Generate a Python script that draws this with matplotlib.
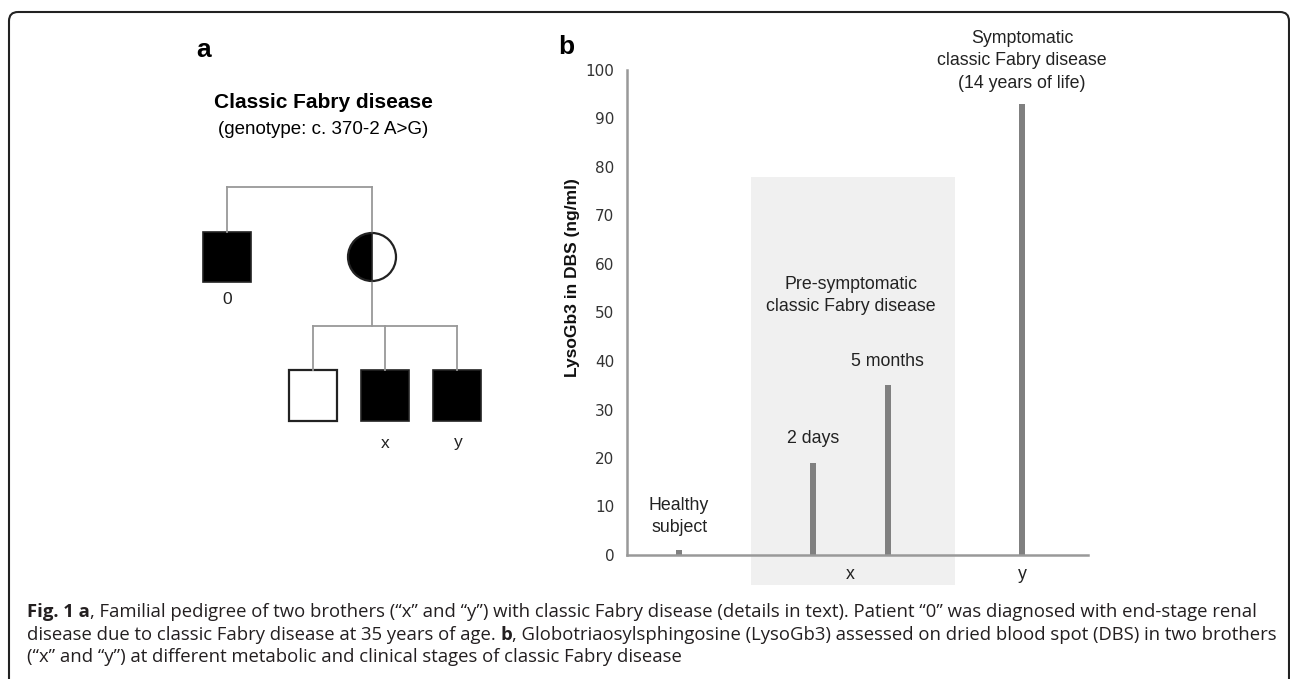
import numpy as np
import matplotlib
matplotlib.use("Agg")
import matplotlib.pyplot as plt
from matplotlib.patches import Rectangle, Wedge, Circle, FancyBboxPatch

# panel b data (LysoGb3 in DBS, ng/ml)
bar_labels = ["Healthy\nsubject", "2 days", "5 months",
              "Symptomatic\nclassic Fabry disease\n(14 years of life)"]
bar_values = [1.0, 19.0, 35.0, 93.0]
bar_pos = [1.13, 4.03, 5.66, 8.57]
label_y = [7.9, 24.1, 39.8, 101.9]
group_labels = ["x", "y"]
group_pos = [4.85, 8.57]
yticks = list(range(0, 101, 10))

fig = plt.figure(figsize=(12.9, 6.79), dpi=100)

# full-figure overlay in pixel coordinates
ax0 = fig.add_axes([0, 0, 1, 1])
ax0.set_xlim(0, 1290)
ax0.set_ylim(679, 0)
ax0.axis("off")

# rounded frame
ax0.add_patch(FancyBboxPatch((9, 12), 1280, 700, boxstyle="round,pad=0,rounding_size=9",
                             fill=False, ec="#222222", lw=1.5))

sans = "Liberation Sans"
cap_font = "Open Sans"

# ---- panel a : pedigree ----
ax0.text(196, 50, "a", fontsize=19, fontweight="bold", family=sans, va="center")
ax0.text(323, 103, "Classic Fabry disease", fontsize=15, fontweight="bold", family=sans,
         ha="center", va="center")
ax0.text(323, 130, "(genotype: c. 370-2 A>G)", fontsize=13.5, family=sans,
         ha="center", va="center")

lc = "#999999"
ax0.plot([227, 372], [187, 187], color=lc, lw=1.3)
ax0.plot([227, 227], [187, 232], color=lc, lw=1.3)
ax0.plot([372, 372], [187, 233], color=lc, lw=1.3)
ax0.plot([372, 372], [281, 326], color=lc, lw=1.3)
ax0.plot([313, 457], [326, 326], color=lc, lw=1.3)
for xx in [313, 385, 457]:
    ax0.plot([xx, xx], [326, 370], color=lc, lw=1.3)

sq = 48
ax0.add_patch(Rectangle((227 - sq / 2, 232), sq, 50, fc="black", ec="#222222", lw=1.2))
ax0.add_patch(Rectangle((313 - sq / 2, 370), sq, 51, fc="white", ec="#222222", lw=1.6))
ax0.add_patch(Rectangle((385 - sq / 2, 370), sq, 51, fc="black", ec="#222222", lw=1.2))
ax0.add_patch(Rectangle((457 - sq / 2, 370), sq, 51, fc="black", ec="#222222", lw=1.2))
ax0.add_patch(Wedge((372, 257), 24, 90, 270, fc="black", ec="none"))
ax0.add_patch(Circle((372, 257), 24, fc="none", ec="#222222", lw=1.6))
ax0.plot([372, 372], [233, 281], color="#222222", lw=1.2)

ax0.text(227, 300, "0", fontsize=12.5, family=sans, ha="center", va="center", color="#222222")
ax0.text(385, 443, "x", fontsize=12.5, family=sans, ha="center", va="center", color="#222222")
ax0.text(458, 443, "y", fontsize=12.5, family=sans, ha="center", va="center", color="#222222")

# ---- panel b : bar chart ----
ax0.text(558, 47, "b", fontsize=19, fontweight="bold", family=sans, va="center")
ax0.text(572, 278, "LysoGb3 in DBS (ng/ml)", fontsize=12.5, fontweight="bold", family=sans,
         rotation=90, ha="center", va="center", color="#111111")

ax = fig.add_axes([627 / 1290, (679 - 555) / 679, (1088 - 627) / 1290, (555 - 70) / 679])
ax.set_xlim(0, 10)
ax.set_ylim(0, 100)
ax.patch.set_alpha(0)
for s in ["top", "right"]:
    ax.spines[s].set_visible(False)
for s in ["left", "bottom"]:
    ax.spines[s].set_color("#999999")
    ax.spines[s].set_linewidth(1.8)
ax.set_xticks([])
ax.set_yticks(yticks)
ax.tick_params(axis="y", length=0, pad=9, labelsize=11, labelcolor="#333333")

# pre-symptomatic shaded region
ax.add_patch(Rectangle((2.69, -6.2), 7.11 - 2.69, 78 + 6.2, fc="#f0f0f0", ec="none",
                       clip_on=False, zorder=0))
ax.text(4.85, 53.5, "Pre-symptomatic\nclassic Fabry disease", fontsize=12.8, family=sans,
        ha="center", va="center", color="#222222", linespacing=1.42)

ax.bar(bar_pos, bar_values, width=0.14, color="#808080", zorder=2)
for xp, ly, lab in zip(bar_pos, label_y, bar_labels):
    ax.text(xp, ly, lab, fontsize=12.8, family=sans, ha="center", va="center",
            color="#222222", linespacing=1.42, clip_on=False)

for xp, lab in zip(group_pos, group_labels):
    ax.text(xp, -4.1, lab, fontsize=12.8, family=sans, ha="center", va="center", color="#222222")

# ---- caption ----
cap_lines = [
    [("Fig. 1 a", "bold"), (", Familial pedigree of two brothers (\u201cx\u201d and \u201cy\u201d) with classic Fabry disease "
                           "(details in text). Patient \u201c0\u201d was diagnosed with end-stage renal", "normal")],
    [("disease due to classic Fabry disease at 35 years of age. ", "normal"), ("b", "bold"),
     (", Globotriaosylsphingosine (LysoGb3) assessed on dried blood spot (DBS) in two brothers", "normal")],
    [("(\u201cx\u201d and \u201cy\u201d) at different metabolic and clinical stages of classic Fabry disease", "normal")],
]
fig.canvas.draw()
renderer = fig.canvas.get_renderer()
for i, parts in enumerate(cap_lines):
    x = 27
    y = 612 + 22.5 * i
    for txt, wt in parts:
        t = ax0.text(x, y, txt, fontsize=13.3, fontweight=wt, family=cap_font,
                     ha="left", va="center", color="#231f20")
        bb = t.get_window_extent(renderer=renderer)
        x += bb.width

fig.savefig("out.png", dpi=100)
